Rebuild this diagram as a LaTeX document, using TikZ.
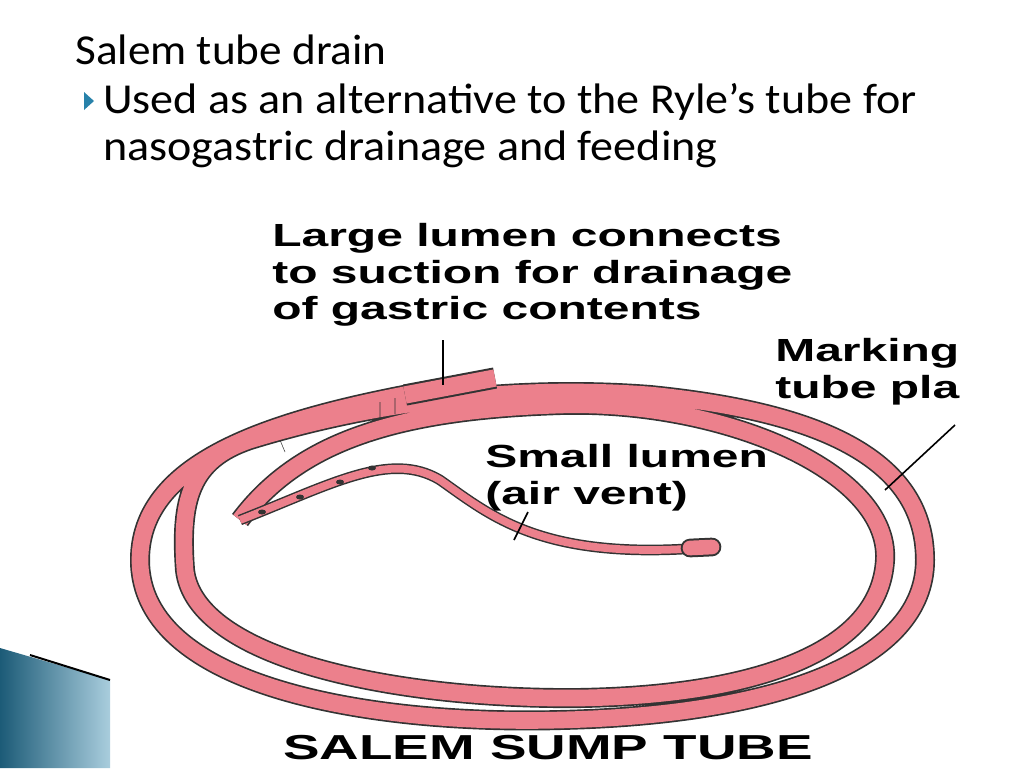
\documentclass[tikz,border=0pt]{standalone}
\usepackage{fontspec}
\setmainfont{Carlito}
\newfontfamily\lab{Liberation Sans}
\newcommand{\wl}[1]{\scalebox{1.5}[1]{#1}}
\begin{document}
\begin{tikzpicture}[x=0.75pt,y=-0.75pt,
  tubeo/.style={line width=15pt,draw=black!80},
  tubei/.style={line width=12.5pt,draw=pinkc},
  thino/.style={line width=8pt,draw=black!80},
  thini/.style={line width=5.8pt,draw=pinkc},
  lbl/.style={font=\lab\bfseries\fontsize{24}{27.5}\selectfont,anchor=west,inner sep=0,align=left},
  ttl/.style={font=\fontsize{32}{35}\selectfont,anchor=west,inner sep=0,align=left}]
\definecolor{pinkc}{RGB}{236,128,140}
\definecolor{teal1}{RGB}{40,130,170}
\useasboundingbox (0,0) rectangle (1024,768);
\fill[white] (0,0) rectangle (1024,768);
% corner decoration
\shade[left color=teal1!70!black,right color=teal1!40] (0,648) -- (110,680) -- (110,768) -- (0,768) -- cycle;
\draw[line width=1.5pt] (30,655) -- (110,680);
% title
\node[ttl] (t1) at (75,50) {\scalebox{1.06}[1]{Salem tube drain}};
\fill[teal1] (84,92) -- (94,101) -- (84,110) -- cycle;
\node[ttl,align=left,anchor=north west] (t2) at (103,83) {\scalebox{1.08}[1]{Used as an alternative to the Ryle’s tube for}\\\scalebox{1.08}[1]{nasogastric drainage and feeding}};
% tube loops
\foreach \s in {tubeo,tubei}{
\draw[\s] (490,380) .. controls (300,410) and (140,450) .. (140,560)
  .. controls (140,690) and (380,725) .. (560,720)
  .. controls (780,715) and (925,660) .. (925,560)
  .. controls (925,450) and (800,410) .. (650,395)
  .. controls (520,385) and (380,400) .. (250,440)
  .. controls (190,460) and (180,500) .. (185,570)
  .. controls (195,660) and (400,700) .. (580,698)
  .. controls (760,695) and (880,650) .. (885,560)
  .. controls (890,470) and (720,400) .. (560,405)
  .. controls (400,410) and (300,440) .. (240,520);
}
\foreach \s in {thino,thini}{
\draw[\s] (240,520) .. controls (330,485) and (390,450) .. (440,480)
  .. controls (490,515) and (540,560) .. (700,548);
}
\draw[line width=14pt,draw=black!80,line cap=round] (690,548) -- (712,547);
\draw[line width=11pt,draw=pinkc,line cap=round] (690,548) -- (712,547);
% large lumen connector
\draw[line width=16pt,draw=black!80] (405,395) -- (495,378);
\draw[line width=13pt,draw=pinkc] (405,395) -- (495,378);
\draw[black!80] (380,402) -- (380,418) (395,398) -- (395,414) (280,440) -- (285,452);
\foreach \p in {(262,512),(300,497),(340,482),(372,468)} \fill[black!80] \p ellipse (4 and 2.5);
% labels
\node[lbl] (l1) at (272,275) {\wl{Large lumen connects}\\\wl{to suction for drainage}\\\wl{of gastric contents}};
\node[lbl,anchor=west] (l2) at (775,372) {\wl{Marking}\\\wl{tube pla}};
\node[lbl] (l3) at (485,478) {\wl{Small lumen}\\\wl{(air vent)}};
\node[font=\lab\bfseries\fontsize{26}{30}\selectfont,inner sep=0] (l4) at (548,748) {\scalebox{1.58}[1]{SALEM SUMP TUBE}};
\coordinate (c1) at (443,340); \coordinate (c1e) at (443,385);
\draw[line width=1.2pt] (c1) -- (c1e);
\coordinate (c2) at (955,425); \coordinate (c2e) at (885,490);
\draw[line width=1.2pt] (c2) -- (c2e);
\coordinate (c3) at (528,512); \coordinate (c3e) at (514,540);
\draw[line width=1.2pt] (c3) -- (c3e);
\end{tikzpicture}
\end{document}
